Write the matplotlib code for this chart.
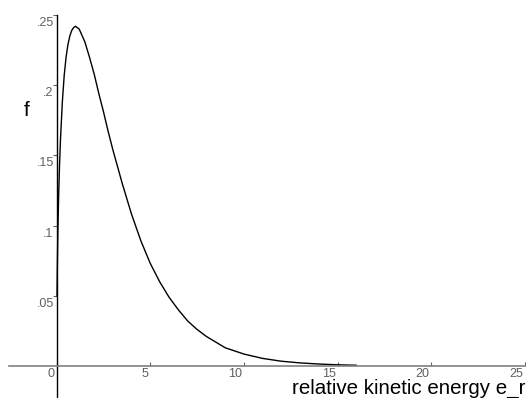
import matplotlib
matplotlib.use("Agg")
import matplotlib.pyplot as plt

# curve points (relative kinetic energy, f)
energy = [0.016, 0.03, 0.06, 0.1, 0.15, 0.2, 0.3, 0.4, 0.5, 0.6, 0.7, 0.8, 0.9,
          1.0, 1.1, 1.2, 1.5, 1.75, 2.0, 2.25, 2.5, 2.75, 3.0, 3.25, 3.5, 3.75,
          4.0, 4.5, 5.0, 5.5, 6.0, 6.5, 7.0, 7.5, 8.0, 9.0, 10.0, 11.0, 12.0,
          13.0, 14.0, 15.0, 16.0]
f_vals = [0.050, 0.068, 0.095, 0.120, 0.143, 0.161, 0.188, 0.207, 0.220, 0.229,
          0.235, 0.239, 0.241, 0.242, 0.241, 0.240, 0.231, 0.220, 0.208, 0.194,
          0.181, 0.167, 0.154, 0.142, 0.130, 0.119, 0.108, 0.089, 0.073, 0.060,
          0.049, 0.040, 0.032, 0.026, 0.021, 0.013, 0.0085, 0.0054, 0.0034,
          0.0022, 0.0014, 0.00085, 0.00053]

x_ticks = [0, 5, 10, 15, 20, 25]
x_labels = ["0", "5", "10", "15", "20", "25"]
y_ticks = [0.05, 0.1, 0.15, 0.2, 0.25]
y_labels = [".05", ".1", ".15", ".2", ".25"]

plt.rcParams['font.family'] = ['Liberation Sans', 'DejaVu Sans']

fig = plt.figure(figsize=(5.26, 3.98), dpi=100)
ax = fig.add_axes([0, 0, 1, 1])
ax.set_xlim(-3.03, 25.07)
ax.set_ylim(-0.0228, 0.2607)

ax.plot(energy, f_vals, color='black', lw=1.0)

# axes through the origin
for s in ['top', 'right']:
    ax.spines[s].set_visible(False)
ax.spines['bottom'].set_position(('data', 0))
ax.spines['left'].set_position(('data', 0))
ax.spines['bottom'].set_bounds(-2.55, 25.07)
ax.spines['left'].set_bounds(-0.0228, 0.25)
ax.spines['bottom'].set_color('#808080')
ax.spines['bottom'].set_linewidth(1.2)
ax.spines['left'].set_color('black')
ax.spines['left'].set_linewidth(1.0)

ax.set_xticks(x_ticks)
ax.set_yticks(y_ticks)
ax.set_xticklabels([])
ax.set_yticklabels([])
ax.tick_params(axis='x', direction='in', length=3, color='#606060', width=0.8)
ax.tick_params(axis='y', direction='out', length=3, color='#606060', width=0.8)

lab_col = '#606060'
for v, t in zip(x_ticks, x_labels):
    ax.annotate(t, xy=(v, 0), xytext=(-2, -2), textcoords='offset pixels',
                ha='right', va='top', fontsize=9, color=lab_col)
for v, t in zip(y_ticks, y_labels):
    ax.annotate(t, xy=(0, v), xytext=(-3, -8), textcoords='offset pixels',
                ha='right', va='center', fontsize=9, color=lab_col)

fig.text(27 / 526, 1 - 110 / 398, "f", fontsize=15, ha='center', va='center')
fig.text(292 / 526, 1 - 393.5 / 398, "relative kinetic energy e_r", fontsize=14.8,
         ha='left', va='baseline')

fig.savefig("out.png", dpi=100)
